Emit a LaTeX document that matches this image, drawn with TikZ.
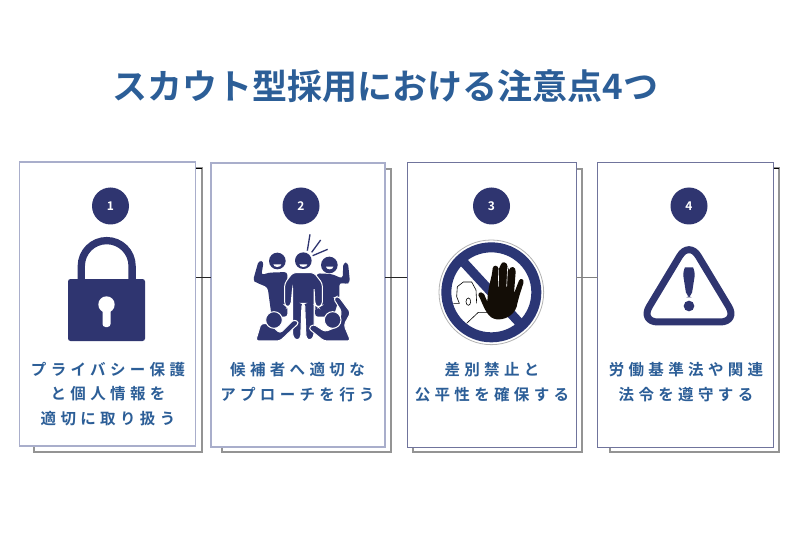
\documentclass[tikz,border=0pt]{standalone}
\usepackage{fontspec}
\setmainfont{Noto Sans CJK JP Bold}
\definecolor{navy}{HTML}{2F3570}
\definecolor{ink}{HTML}{2C5E97}
\definecolor{signblue}{HTML}{2B3675}
\definecolor{edgeA}{HTML}{A9AECB}
\definecolor{edgeB}{HTML}{70749C}
\tikzset{
  x=1pt,y=-1pt,
  card/.style={draw=edgeB,line width=1pt,fill=white,outer sep=0pt,inner sep=0pt,anchor=north west},
  cardsoft/.style={draw=edgeA,line width=1.1pt,fill=white,outer sep=0pt,inner sep=0pt,anchor=north west},
  backsheet/.style={draw=black!42,line width=1.1pt,fill=white},
  link/.style={draw=black!85,line width=.7pt},
  badge/.style={circle,fill=navy,minimum size=37pt,inner sep=0pt,text=white,font=\fontsize{12pt}{12pt}\selectfont},
  label/.style={text=ink,align=center,inner sep=0pt,font=\fontsize{15.5pt}{24.6pt}\selectfont\addfontfeature{LetterSpace=28}},
  cut/.style={fill=navy,draw=white,line width=1pt},
}
\begin{document}
\begin{tikzpicture}
\useasboundingbox (0,0) rectangle (790,548);
\fill[white] (0,0) rectangle (790,548);
\node[text=ink,inner sep=0pt,anchor=center,font=\fontsize{35pt}{40pt}\selectfont] (title) at (385.3,86.6) {スカウト型採用における注意点4つ};

% back sheets
\draw[backsheet] (34,168) rectangle (202,452);
\draw[backsheet] (222,169) rectangle (391,452);
\draw[backsheet] (413,169) rectangle (582,452);
\draw[backsheet] (610,168) rectangle (779,452);
\draw[black,line width=.6pt] (196,168)--(202,168);
\draw[black,line width=.6pt] (774,168)--(779,168);

% cards
\node[cardsoft,minimum width=176pt,minimum height=284pt] (c1) at (19.7,162) {};
\node[cardsoft,minimum width=174pt,minimum height=284pt] (c2) at (211,163) {};
\node[card,minimum width=169pt,minimum height=284pt] (c3) at (407,163) {};
\node[card,minimum width=176pt,minimum height=284pt] (c4) at (597.5,163) {};
\coordinate (j1) at (196,277);
\coordinate (j2) at (211,277);
\coordinate (j3) at (385,277);
\coordinate (j4) at (407,277);
\coordinate (j5) at (576,277.5);
\coordinate (j6) at (597.5,277.5);
\draw[link] (j1) -- (j2);
\draw[link] (j3) -- (j4);
\draw[link,draw=black!50,line width=1pt] (j5) -- (j6);

% badges
\node[badge] (b1) at (110.5,206) {1};
\node[badge] (b2) at (301,206) {2};
\node[badge] (b3) at (491.5,206) {3};
\node[badge] (b4) at (689,206) {4};

% labels
\node[label] (t1) at (108,394) {プライバシー保護\\と個人情報を\\適切に取り扱う};
\node[label] (t2) at (297.5,382) {候補者へ適切な\\アプローチを行う};
\node[label] (t3) at (492,382) {差別禁止と\\公平性を確保する};
\node[label] (t4) at (686,382) {労働基準法や関連\\法令を遵守する};

% lock
\draw[navy,line width=7.3pt] (81.3,282) -- (81.3,266) arc[start angle=180,end angle=360,radius=25.4] -- (132.1,282);
\fill[navy,rounded corners=2.5pt] (68,279) rectangle (145,341);
\fill[white] (106.5,304.5) circle (8.2);
\fill[white,rounded corners=3pt] (102.5,304) rectangle (110.5,327);

% crowd
\begin{scope}[shift={(200,170)},scale=1/3]
 \draw[navy,line width=1.3pt] (322,242)--(330,193) (335,247)--(362,210) (338,257)--(383,238);
 % back left
 \fill[navy,rounded corners=3pt] (176,272)--(191,274)--(184,316)--(205,308)--(262,306)--(262,440)--(215,440)--(203,352)--(170,338)--(159,332)--cycle;
 % back right
 \fill[navy,rounded corners=3pt] (430,278)--(444,278)--(450,338)--(438,342)--(418,338)--(418,385)--(400,440)--(345,440)--(350,310)--(395,312)--(428,326)--cycle;
 % heads
 \fill[navy] (232,273) circle (25) (388,285) circle (25);
 \fill[white] (220,283) arc[start angle=180,end angle=0,x radius=12,y radius=8]--cycle;
 \fill[white] (378,290) arc[start angle=180,end angle=0,x radius=11,y radius=8]--cycle;
 % centre person
 \fill[navy,draw=white,line width=1pt,rounded corners=3pt]
   (254,340)--(278,308)--(342,308)--(367,340)--(367,405)--(355,412)--(345,405)--(342,352)--(342,500)--(330,512)--(318,505)--(314,400)--(306,400)--(302,505)--(290,512)--(278,500)--(278,352)--(273,405)--(262,412)--(254,405)--cycle;
 \fill[navy] (310,272) circle (25);
 \fill[white] (298,283) arc[start angle=180,end angle=0,x radius=12,y radius=8]--cycle;
 % front left
 \fill[navy,draw=white,line width=1pt,rounded corners=3pt]
   (167,513)--(183,460)--(210,462)--(240,490)--(282,448)--(298,458)--(240,513)--cycle;
 \fill[cut] (222,450) circle (25);
 % front right
 \fill[navy,draw=white,line width=1pt,rounded corners=3pt]
   (452,513)--(432,465)--(452,428)--(415,378)--(400,385)--(425,425)--(412,470)--(375,485)--(340,462)--(325,475)--(372,513)--cycle;
 \fill[cut] (398,450) circle (25);
\end{scope}

% prohibition sign
\begin{scope}[shift={(400,170)},scale=1/3]
 \draw[black!30,line width=.8pt] (274,367) circle (157);
 \draw[signblue,line width=10pt] (274,367) circle (135);
 \draw[black,line width=.6pt] (160,400)--(178,400)--(170,380)--(172,350)--(190,336)--(215,336)--(228,360)--(230,400);
 \draw[black,line width=.6pt] (200,460)--(235,427)--(265,427);
 \draw[black,line width=.6pt] (205,395) ellipse (7 and 11);
 \draw[signblue,line width=9.3pt] (192,278) -- (358,458);
 % hand
 \fill[black!90!brown] (262,395)..controls (265,340) and (275,330) .. (278,295) .. controls (280,283) and (295,285) .. (296,298) -- (302,285) .. controls (305,272) and (322,275) .. (323,290) -- (327,300) .. controls (332,285) and (348,290) .. (347,305) -- (342,370) -- (357,332) .. controls (362,322) and (374,328) .. (370,340) .. controls (362,365) and (355,385) .. (350,410) .. controls (340,440) and (310,450) .. (290,448) .. controls (265,445) and (255,420) .. (240,385) .. controls (228,372) and (240,360) .. (252,372) -- cycle;
 \draw[white,line width=.6pt] (296,298)--(295,350) (323,290)--(320,350);
\end{scope}

% warning
\begin{scope}[shift={(590,150)},scale=1/3]
 \draw[navy,line width=7pt,line join=round,rounded corners=18pt] (297,272) -- (150,516) -- (444,516) -- cycle;
 \fill[navy,rounded corners=5pt] (278,365) .. controls (285,352) and (309,352) .. (316,365) -- (304,442) -- (290,442) -- cycle;
 \fill[navy] (297,468) circle (16);
\end{scope}
\end{tikzpicture}
\end{document}
